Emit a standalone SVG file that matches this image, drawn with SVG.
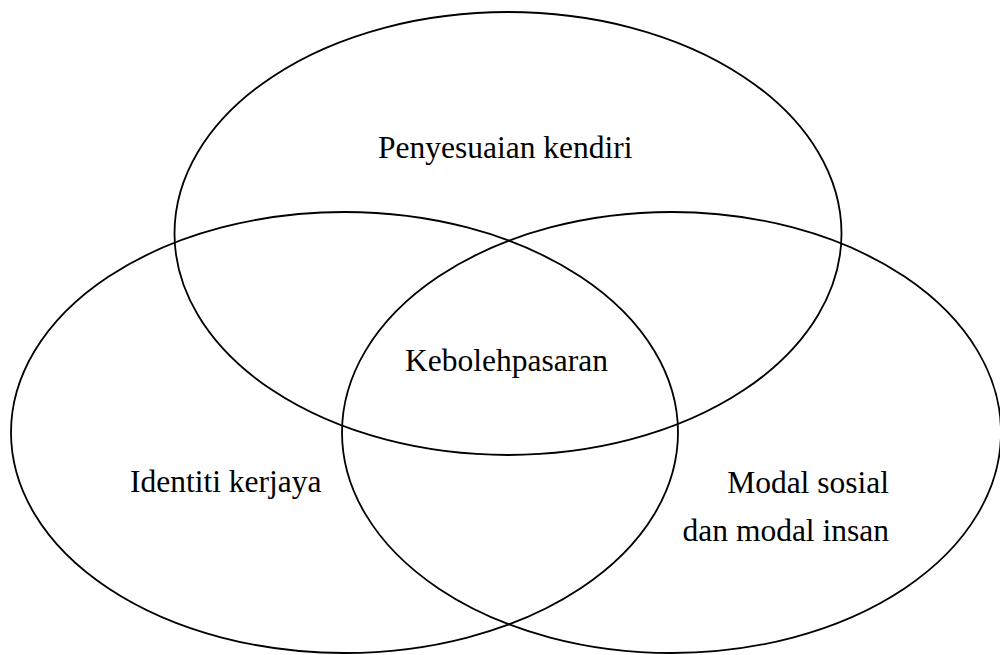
<svg xmlns="http://www.w3.org/2000/svg" width="1000" height="655" viewBox="0 0 1000 655">
<style>
.e{fill:none;stroke:#000;stroke-width:1.8}
.t{font-family:"Liberation Serif","Times New Roman",serif;font-size:31.5px;fill:#000}
</style>
<rect width="1000" height="655" fill="#fff"/>
<g id="connectors"/>
<g id="top"><ellipse class="e" cx="508" cy="233.5" rx="333.5" ry="221.5"/><text class="t" x="378" y="158">Penyesuaian kendiri</text></g>
<g id="left"><ellipse class="e" cx="344.5" cy="432.5" rx="333.5" ry="220.5"/><text class="t" x="130" y="492">Identiti kerjaya</text></g>
<g id="right"><ellipse class="e" cx="671.5" cy="432.5" rx="329.5" ry="220.5"/><text class="t" x="889" y="492.5" text-anchor="end">Modal sosial</text><text class="t" x="889" y="540.5" text-anchor="end">dan modal insan</text></g>
<g id="center"><text class="t" x="405" y="371">Kebolehpasaran</text></g>
</svg>
